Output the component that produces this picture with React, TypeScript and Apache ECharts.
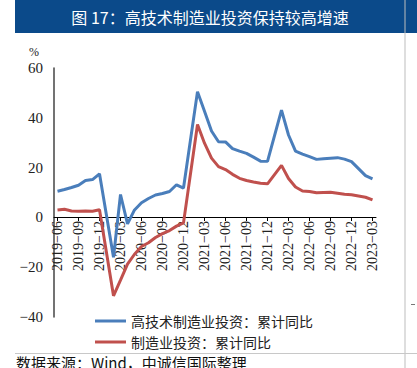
import React, { useEffect, useRef } from "react";
import * as echarts from "echarts";

const categories: string[] = [
  "2019-06", "2019-07", "2019-08", "2019-09", "2019-10", "2019-11", "2019-12",
  "2020-01", "2020-02", "2020-03", "2020-04", "2020-05", "2020-06", "2020-07", "2020-08", "2020-09", "2020-10", "2020-11", "2020-12",
  "2021-01", "2021-02", "2021-03", "2021-04", "2021-05", "2021-06", "2021-07", "2021-08", "2021-09", "2021-10", "2021-11", "2021-12",
  "2022-01", "2022-02", "2022-03", "2022-04", "2022-05", "2022-06", "2022-07", "2022-08", "2022-09", "2022-10", "2022-11", "2022-12",
  "2023-01", "2023-02", "2023-03",
];

const hiTech: (number | null)[] = [
  10.5, 11.2, 12.0, 12.9, 14.8, 15.2, 17.5,
  null, -16.0, 9.2, -2.6, 3.0, 5.9, 7.6, 9.0, 9.6, 10.4, 13.1, 11.8,
  null, 50.5, 42.6, 34.7, 30.4, 30.3, 27.6, 26.6, 25.7, 24.2, 22.6, 22.5,
  null, 43.1, 33.1, 26.6, 25.4, 24.4, 23.3, 23.6, 23.8, 24.0, 23.4, 22.4,
  null, 16.8, 15.5,
];

const manufacturing: (number | null)[] = [
  3.0, 3.3, 2.6, 2.5, 2.6, 2.5, 3.1,
  null, -31.5, -25.2, -18.8, -14.8, -11.7, -10.2, -8.1, -6.5, -5.3, -3.5, -2.2,
  null, 37.3, 29.8, 23.8, 20.4, 19.2, 17.3, 15.7, 14.8, 14.2, 13.7, 13.5,
  null, 20.9, 15.6, 12.2, 10.6, 10.4, 9.9, 10.0, 10.1, 9.7, 9.3, 9.1,
  null, 8.1, 7.0,
];

const seriesNames = ["高技术制造业投资：累计同比", "制造业投资：累计同比"];
const titleText = "图 17：高技术制造业投资保持较高增速";
const sourceText = "数据来源：Wind，中诚信国际整理";

const SERIF = "Liberation Serif";
const CJK = "Noto Sans CJK SC";

const GRID_TOP = 68;
const GRID_BOTTOM = 51;
const Y_MIN = -40;
const Y_MAX = 60;

export default function App() {
  const ref = useRef<HTMLDivElement>(null);
  useEffect(() => {
    if (!ref.current) return;
    const chart = echarts.init(ref.current, undefined, { renderer: "svg" });
    const plotH = 368 - GRID_TOP - GRID_BOTTOM;
    const zeroOffset = -Math.round((plotH * (0 - Y_MIN)) / (Y_MAX - Y_MIN));
    chart.setOption({
      animation: false,
      backgroundColor: "#ffffff",
      grid: { left: 54, right: 41, top: GRID_TOP, bottom: GRID_BOTTOM, containLabel: false, outerBoundsMode: "none" },
      xAxis: {
        type: "category",
        data: categories,
        boundaryGap: true,
        offset: zeroOffset,
        axisLine: { show: true, onZero: false, lineStyle: { color: "#000", width: 1 } },
        axisTick: { show: true, alignWithLabel: true, interval: 2, length: 4, lineStyle: { color: "#000" } },
        axisLabel: {
          interval: 2,
          rotate: 90,
          margin: 4,
          color: "#222",
          fontFamily: SERIF,
          fontSize: 14,
          formatter: (v: string) => v.replace("-", "\u2212"),
        },
        splitLine: { show: false },
      },
      yAxis: {
        type: "value",
        min: Y_MIN,
        max: Y_MAX,
        interval: 20,
        axisLine: { show: true, lineStyle: { color: "#444", width: 1.5 } },
        axisTick: { show: false },
        splitLine: { show: false },
        axisLabel: {
          margin: 11,
          color: "#222",
          fontFamily: SERIF,
          fontSize: 15,
          formatter: (v: number) => String(v).replace("-", "\u2212"),
        },
      },
      legend: {
        orient: "vertical",
        left: 95,
        top: 314,
        padding: 0,
        icon: "rect",
        itemWidth: 31,
        itemHeight: 3,
        itemGap: 7,
        textStyle: { fontFamily: CJK, fontSize: 14, lineHeight: 14, color: "#222" },
        data: seriesNames,
      },
      series: [
        {
          name: seriesNames[0],
          type: "line",
          data: hiTech,
          connectNulls: true,
          symbol: "none",
          lineStyle: { color: "#4a7ebb", width: 3 },
          itemStyle: { color: "#4a7ebb" },
        },
        {
          name: seriesNames[1],
          type: "line",
          data: manufacturing,
          connectNulls: true,
          symbol: "none",
          lineStyle: { color: "#c0504d", width: 3 },
          itemStyle: { color: "#c0504d" },
        },
      ],
      graphic: [
        { type: "rect", shape: { x: 15, y: 0, width: 402, height: 33 }, style: { fill: "#0b4a8a" }, silent: true },
        {
          type: "text",
          x: 210,
          y: 17,
          style: { text: titleText, fill: "#fff", font: `16px '${CJK}'`, align: "center", verticalAlign: "middle" },
        },
        { type: "line", shape: { x1: 405, y1: 0, x2: 405, y2: 368 }, style: { stroke: "#bdbdbd", lineWidth: 1 } },
        { type: "line", shape: { x1: 15, y1: 353.5, x2: 417, y2: 353.5 }, style: { stroke: "#c8c8c8", lineWidth: 1 } },
        { type: "line", shape: { x1: 411, y1: 304.5, x2: 415, y2: 304.5 }, style: { stroke: "#777", lineWidth: 1 } },
        {
          type: "text",
          x: 29,
          y: 46,
          style: { text: "%", fill: "#222", font: `12px '${SERIF}'`, align: "left", verticalAlign: "top" },
        },
        {
          type: "text",
          x: 16,
          y: 355,
          style: { text: sourceText, fill: "#111", font: `15px '${CJK}'`, align: "left", verticalAlign: "top" },
        },
      ],
    });
    return () => chart.dispose();
  }, []);
  return <div ref={ref} style={{ width: 417, height: 368, position: "fixed", left: 0, top: 0 }} />;
}
